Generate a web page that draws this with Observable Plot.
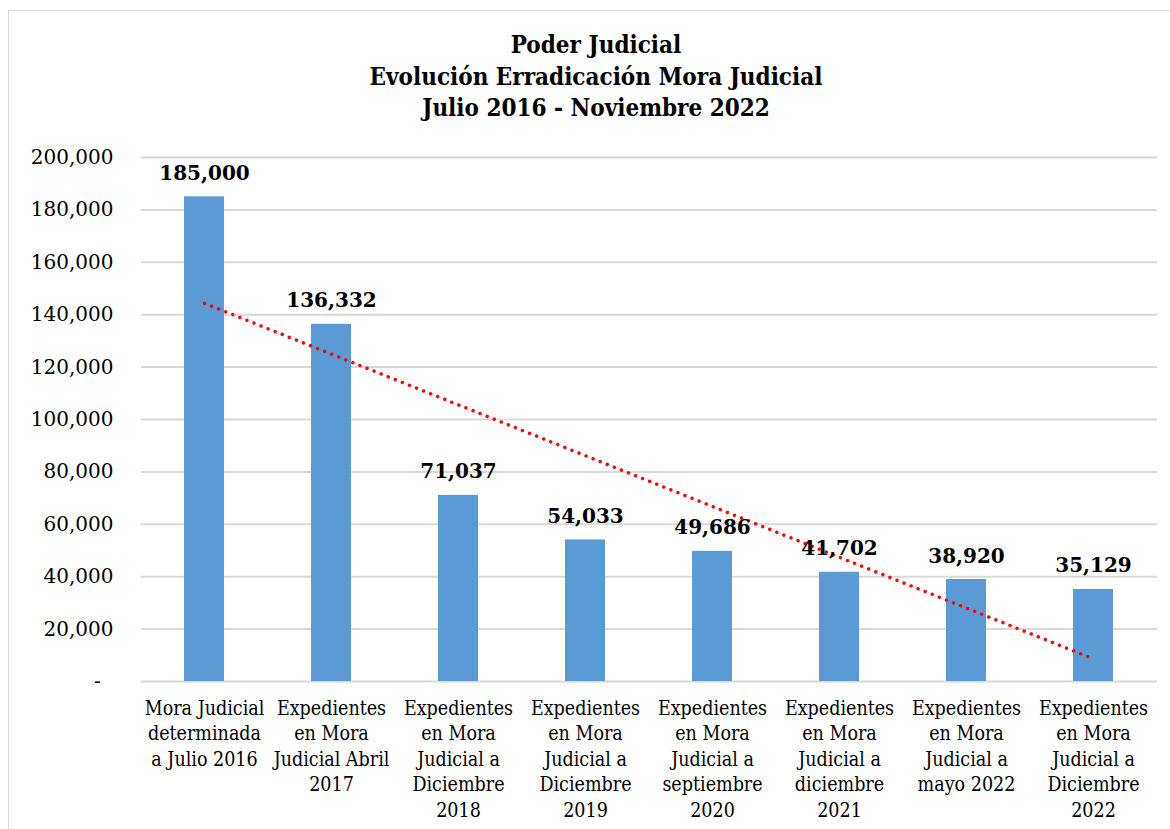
<!DOCTYPE html>
<html>
<head>
<meta charset="utf-8">
<script src="https://cdn.jsdelivr.net/npm/d3@7"></script>
<script src="https://cdn.jsdelivr.net/npm/@observablehq/plot@0.6"></script>
<style>
  html, body { margin: 0; padding: 0; background: #fff; }
  body { width: 1170px; height: 829px; position: relative; overflow: hidden; }
  #frame { position: absolute; left: 8px; top: 10px; width: 1180px; height: 840px; border: 1px solid #d9d9d9; box-sizing: border-box; }
  #title { position: absolute; left: 296px; width: 600px; top: 29px; text-align: center;
    font-family: "DejaVu Serif Condensed", "DejaVu Serif", serif; font-weight: bold; font-size: 24px; line-height: 31.5px; color: #000; }
  #chart { position: absolute; left: 0; top: 140px; }
</style>
</head>
<body>
<div id="frame"></div>
<div id="title">Poder Judicial<br>Evolución Erradicación Mora Judicial<br>Julio 2016 - Noviembre 2022</div>
<div id="chart"></div>
<script>
const categories = [
  "Mora Judicial\ndeterminada\na Julio 2016",
  "Expedientes\nen Mora\nJudicial Abril\n2017",
  "Expedientes\nen Mora\nJudicial a\nDiciembre\n2018",
  "Expedientes\nen Mora\nJudicial a\nDiciembre\n2019",
  "Expedientes\nen Mora\nJudicial a\nseptiembre\n2020",
  "Expedientes\nen Mora\nJudicial a\ndiciembre\n2021",
  "Expedientes\nen Mora\nJudicial a\nmayo 2022",
  "Expedientes\nen Mora\nJudicial a\nDiciembre\n2022"
];
const values = [185000, 136332, 71037, 54033, 49686, 41702, 38920, 35129];
const yTicks = [0, 20000, 40000, 60000, 80000, 100000, 120000, 140000, 160000, 180000, 200000];

const data = categories.map((c, i) => ({cat: c, value: values[i]}));

// linear trendline (least squares over index 1..n)
const n = values.length;
const xs = values.map((_, i) => i + 1);
const mx = d3.mean(xs), my = d3.mean(values);
const slope = d3.sum(xs, (x, i) => (x - mx) * (values[i] - my)) / d3.sum(xs, x => (x - mx) ** 2);
const intercept = my - slope * mx;
const trend = [
  {cat: categories[0], value: intercept + slope * 1},
  {cat: categories[n - 1], value: intercept + slope * n}
];

const fmt = d3.format(",");
const serif = "'DejaVu Serif', serif";

const chart = Plot.plot({
  width: 1170,
  height: 689,
  marginLeft: 141,
  marginRight: 13,
  marginTop: 17,
  marginBottom: 148,
  style: {background: "transparent", fontFamily: serif, color: "#000"},
  x: {domain: categories, paddingInner: 0.685, paddingOuter: 0.3425, axis: null},
  y: {domain: [0, 200000], axis: null},
  marks: [
    Plot.ruleY(yTicks, {stroke: "#d9d9d9", strokeWidth: 2}),
    Plot.barY(data, {x: "cat", y: "value", fill: "#5b9bd5"}),
    Plot.text(yTicks, {x: null, y: d => d, frameAnchor: "left", textAnchor: "end", dx: -28,
      text: d => d === 0 ? "-\u00a0\u00a0" : fmt(d), fontSize: 20, fontFamily: serif, fill: "#000"}),
    Plot.text(categories, {x: d => d, frameAnchor: "bottom", lineAnchor: "top", dy: 15,
      lineHeight: 1.31, text: d => d, fontSize: 19.5, fontFamily: "'DejaVu Serif Condensed', 'DejaVu Serif', serif", fill: "#000"}),
    Plot.line(trend, {x: "cat", y: "value", stroke: "#ff0000", strokeWidth: 3.5,
      strokeDasharray: "0.01 7.6", strokeLinecap: "round"}),
    Plot.text(data, {x: "cat", y: "value", text: d => fmt(d.value), lineAnchor: "bottom", dy: -17,
      fontSize: 20, fontWeight: "bold", fontFamily: serif, fill: "#000"})
  ]
});
document.getElementById("chart").appendChild(chart);
</script>
</body>
</html>
